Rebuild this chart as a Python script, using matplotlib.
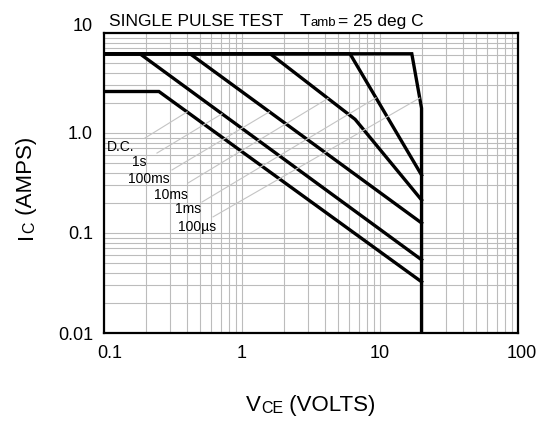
import numpy as np
import matplotlib
matplotlib.use("Agg")
import matplotlib.pyplot as plt
import matplotlib.transforms as mtransforms

plt.rcParams['font.family'] = ['Liberation Sans', 'DejaVu Sans']

# Safe operating area, VCE (volts) vs IC (amps)
vce_dc = [0.1, 0.25, 20]
ic_dc = [2.6, 2.6, 0.0325]
vce_1s = [0.1, 0.182, 20]
ic_1s = [6.2, 6.2, 0.054]
vce_100ms = [0.1, 0.42, 20]
ic_100ms = [6.2, 6.2, 0.126]
vce_10ms = [0.1, 1.6, 6.6, 20]
ic_10ms = [6.2, 6.2, 1.37, 0.214]
vce_1ms = [0.1, 6.06, 20]
ic_1ms = [6.2, 6.2, 0.38]
vce_100us = [0.1, 17.0, 20, 20]
ic_100us = [6.2, 6.2, 1.77, 0.01]

curves = [(vce_dc, ic_dc), (vce_1s, ic_1s), (vce_100ms, ic_100ms),
          (vce_10ms, ic_10ms), (vce_1ms, ic_1ms), (vce_100us, ic_100us)]
curve_names = ["D.C.", "1s", "100ms", "10ms", "1ms", "100\u00b5s"]

# label positions and leader lines (start near label, end on the curve)
label_v = [0.105, 0.16, 0.149, 0.23, 0.327, 0.344]
label_i = [0.724, 0.513, 0.347, 0.24, 0.174, 0.115]
leader_v0 = [0.198, 0.242, 0.311, 0.406, 0.513, 0.617]
leader_i0 = [0.89, 0.63, 0.427, 0.316, 0.204, 0.145]
leader_v1 = [0.40, 0.716, 1.58, 4.2, 9.35, 19.4]

x_ticks = [0.1, 1, 10, 100]
x_ticklabels = ["0.1", "1", "10", "100"]
y_ticks = [0.01, 0.1, 1, 10]
y_ticklabels = ["0.01", "0.1", "1.0", "10"]

W, H = 544, 421
fig = plt.figure(figsize=(W / 100, H / 100), dpi=100)
ax = fig.add_axes([104 / W, 1 - 333 / H, 414 / W, 300 / H])
ax.set_xscale("log")
ax.set_yscale("log")
ax.set_xlim(0.1, 100)
ax.set_ylim(0.01, 10)

ax.grid(True, which="both", color="#bcbcbc", lw=0.8)
ax.set_axisbelow(True)

for vce, ic in curves:
    ax.plot(vce, ic, color="black", lw=2.4, solid_joinstyle="miter")

# leader lines + labels
for k, name in enumerate(curve_names):
    vce, ic = curves[k]
    i1 = 10 ** np.interp(np.log10(leader_v1[k]), np.log10(vce), np.log10(ic))
    ax.plot([leader_v0[k], leader_v1[k]], [leader_i0[k], i1],
            color="#c4c4c4", lw=0.8)
    ax.text(label_v[k], label_i[k], name, fontsize=10, ha="left", va="center")

ax.set_xticks(x_ticks)
ax.set_xticklabels(x_ticklabels)
ax.set_yticks(y_ticks)
ax.set_yticklabels(y_ticklabels)
ax.tick_params(which="both", length=0, labelsize=13)
ax.tick_params(axis="x", pad=9)
ax.tick_params(axis="y", pad=8)
for s in ax.spines.values():
    s.set_linewidth(1.6)

# nudge a few tick labels like the original
shift = lambda dx, dy: mtransforms.ScaledTranslation(dx / 100, dy / 100, fig.dpi_scale_trans)
ylabels = ax.get_yticklabels()
ylabels[-1].set_transform(ylabels[-1].get_transform() + shift(0, 8))
xlabels = ax.get_xticklabels()
xlabels[0].set_transform(xlabels[0].get_transform() + shift(6, 0))
xlabels[-1].set_transform(xlabels[-1].get_transform() + shift(4, 0))

# title with small "amb"
t = fig.text(109 / W, 1 - 26 / H, "SINGLE PULSE TEST", fontsize=12.5, va="baseline")
t = ax.annotate("T", xy=(1, 0), xycoords=t, xytext=(12, 0),
                textcoords="offset points", fontsize=12.5, va="bottom")
t = ax.annotate("amb", xy=(1, 0), xycoords=t, fontsize=9.5, va="bottom")
ax.annotate("= 25 deg C", xy=(1, 0), xycoords=t, xytext=(1.5, 0),
            textcoords="offset points", fontsize=12.5, va="bottom")

# x axis label  VCE (VOLTS)
t = fig.text(246 / W, 1 - 416 / H, "V", fontsize=16, va="bottom")
t = ax.annotate("CE", xy=(1, 0), xycoords=t, fontsize=11.5, va="bottom")
ax.annotate(" (VOLTS)", xy=(1, 0), xycoords=t, fontsize=16, va="bottom")

# y axis label  IC (AMPS)
t = fig.text(37 / W, 1 - 239 / H, "I", fontsize=16, rotation=90,
             ha="right", va="bottom")
t = ax.annotate("C", xy=(1, 1), xycoords=t, fontsize=11.5, rotation=90,
                ha="right", va="bottom")
ax.annotate(" (AMPS)", xy=(1, 1), xycoords=t, fontsize=16, rotation=90,
            ha="right", va="bottom")

fig.savefig("out.png", dpi=100)
